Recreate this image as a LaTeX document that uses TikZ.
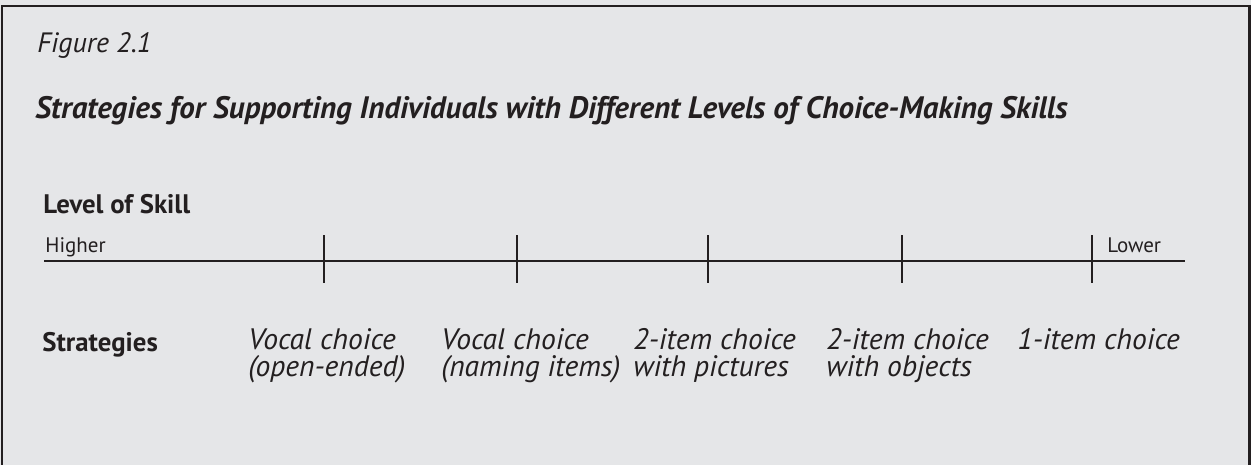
\documentclass[tikz,border=0pt]{standalone}
\usepackage{fontspec}
\setmainfont{PT Sans}
\usepackage{xcolor}
\definecolor{panelgray}{HTML}{E5E6E8}
\definecolor{inkdark}{HTML}{231F20}
\usepackage{tikz}
\usetikzlibrary{positioning}
\tikzset{
  every node/.style={inkdark, inner sep=0pt},
  figlabel/.style={anchor=base west, font=\fontsize{14}{17}\selectfont\itshape},
  figtitle/.style={anchor=base west, font=\fontsize{15.5}{18}\selectfont\bfseries\itshape},
  rowhead/.style={anchor=base west, font=\fontsize{13.4}{16}\selectfont\bfseries},
  endlabel/.style={anchor=base west, font=\fontsize{10.5}{12}\selectfont},
  strategy/.style={anchor=base west, align=left, font=\fontsize{14.8}{13.5}\selectfont\itshape},
  axisline/.style={inkdark, line width=1.3pt},
  tickline/.style={inkdark, line width=1.3pt}
}

\begin{document}
\begin{tikzpicture}[x=0.5pt, y=-0.5pt]

% panel with frame (open at the bottom)
\useasboundingbox (0,0) rectangle (1251,465);
\fill[panelgray] (0,0) rectangle (1251,465);
\draw[inkdark, line width=1.2pt] (2,465) -- (2,6) -- (1249.5,6) -- (1249.5,465);

% headings
\node[figlabel] (fig) at (37,53) {Figure 2.1};
\node[figtitle] (title) at (35,119) {Strategies for Supporting Individuals with Different Levels of Choice-Making Skills};

% Level of skill axis
\node[rowhead] (level) at (43,213) {Level of Skill};
\node[endlabel] (higher) at (45,252) {Higher};
\node[endlabel] (lower) at (1107,252) {Lower};

\coordinate (axL) at (44,261);
\coordinate (axR) at (1185,261);
\draw[axisline] (axL) -- (axR);

% tick marks
\foreach \x [count=\i] in {324, 517, 708, 902, 1092} {
  \coordinate (tickT\i) at (\x,235);
  \coordinate (tickB\i) at (\x,283);
  \draw[tickline] (tickT\i) -- (tickB\i);
}

% strategies row (two-line labels sit on their second baseline)
\node[rowhead] (strat) at (42,351) {Strategies};
\node[strategy] (s1) at (248,376) {Vocal choice\\(open-ended)};
\node[strategy] (s2) at (441,376) {Vocal choice\\(naming items)};
\node[strategy] (s3) at (633,376) {2-item choice\\with pictures};
\node[strategy] (s4) at (826,376) {2-item choice\\with objects};
\node[strategy] (s5) at (1017,349) {1-item choice};

\end{tikzpicture}
\end{document}
